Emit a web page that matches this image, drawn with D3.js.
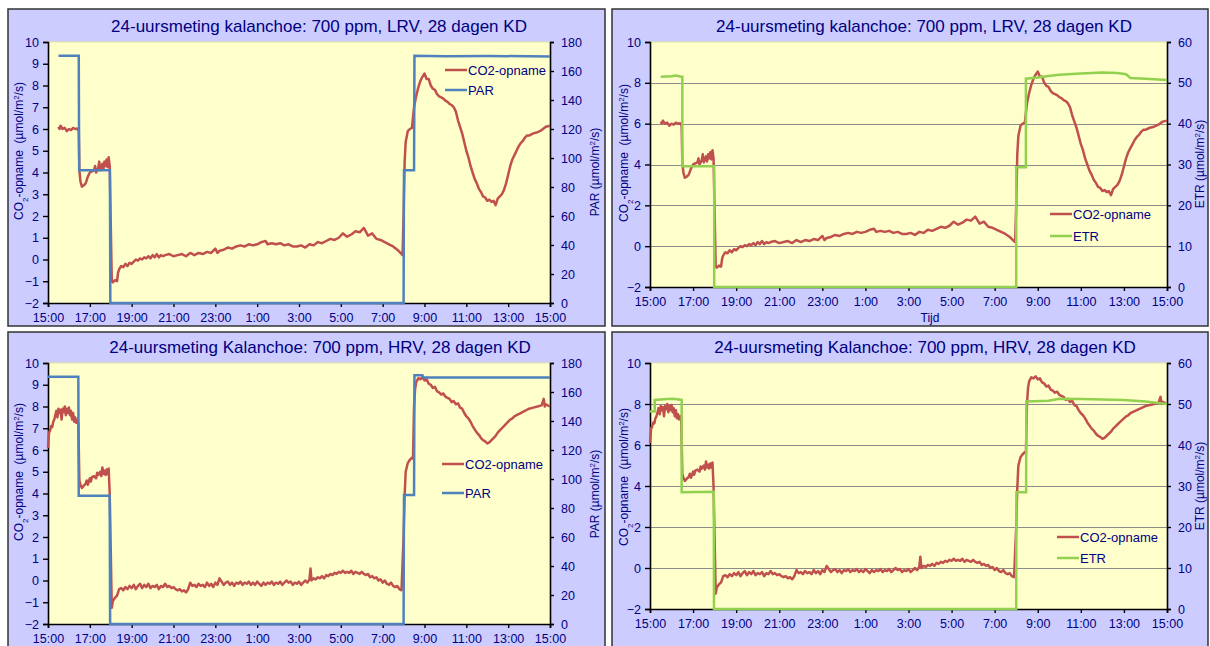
<!DOCTYPE html>
<html>
<head>
<meta charset="utf-8">
<script src="https://cdn.jsdelivr.net/npm/d3@7"></script>
<style>
  html, body { margin: 0; padding: 0; background: #ffffff; }
  svg { display: block; }
  text { font-family: "Liberation Sans", Arial, sans-serif; fill: #000080; }
</style>
</head>
<body>
<svg id="chart" width="1210" height="646"></svg>
<script>
// ---- Data: hours after 15:00, value ----
const xTickHours = [0, 2, 4, 6, 8, 10, 12, 14, 16, 18, 20, 22, 24];
const xTickLabels = ["15:00", "17:00", "19:00", "21:00", "23:00", "1:00", "3:00", "5:00", "7:00", "9:00", "11:00", "13:00", "15:00"];

// CO2 uptake, low relative humidity (LRV)
const co2LRV = [
  [0.5,6.1],[0.55,6.0],[0.6,6.15],[0.7,6.0],[0.8,6.05],[0.9,5.9],[1.0,6.0],[1.1,5.95],[1.2,6.05],[1.3,6.0],[1.4,6.02],[1.47,5.9],
  [1.5,4.1],[1.55,3.6],[1.62,3.35],[1.7,3.4],[1.8,3.5],[1.9,3.8],[2.0,4.0],[2.1,4.05],[2.2,4.1],[2.25,4.3],[2.3,4.0],[2.4,4.2],
  [2.45,4.5],[2.5,4.1],[2.6,4.4],[2.65,4.15],[2.7,4.5],[2.75,4.3],[2.8,4.6],[2.85,4.25],[2.9,4.7],[2.95,4.3],
  [3.05,-1.0],[3.1,-1.05],[3.2,-0.95],[3.3,-1.0],[3.35,-0.6],[3.4,-0.45],[3.5,-0.3],[3.6,-0.35],[3.7,-0.2],[3.8,-0.3],
  [3.9,-0.15],[4.0,-0.2],[4.1,-0.1],[4.2,0.0],[4.3,-0.05],[4.4,0.05],[4.5,0.0],[4.6,0.1],[4.7,0.05],[4.8,0.15],[4.9,0.05],
  [5.0,0.2],[5.1,0.1],[5.2,0.25],[5.3,0.1],[5.4,0.2],[5.5,0.15],[5.6,0.2],[5.8,0.25],[6.0,0.15],[6.2,0.2],[6.4,0.25],
  [6.6,0.15],[6.8,0.3],[7.0,0.2],[7.2,0.3],[7.4,0.25],[7.6,0.35],[7.8,0.3],[8.0,0.5],[8.1,0.3],[8.2,0.4],[8.4,0.45],
  [8.6,0.55],[8.8,0.5],[9.0,0.6],[9.2,0.65],[9.4,0.6],[9.6,0.7],[9.8,0.65],[10.0,0.7],[10.2,0.8],[10.4,0.85],[10.5,0.7],
  [10.7,0.75],[10.9,0.7],[11.1,0.75],[11.3,0.65],[11.5,0.7],[11.7,0.6],[11.9,0.6],[12.1,0.65],[12.3,0.55],[12.5,0.7],
  [12.7,0.65],[12.9,0.8],[13.1,0.75],[13.3,0.85],[13.5,0.95],[13.7,0.9],[13.9,1.0],[14.1,1.2],[14.3,1.05],[14.5,1.15],
  [14.7,1.3],[14.9,1.25],[15.1,1.45],[15.3,1.1],[15.5,1.2],[15.7,0.95],[15.9,0.9],[16.1,0.8],[16.3,0.7],[16.5,0.6],
  [16.7,0.45],[16.85,0.3],[16.95,0.2],
  [17.0,2.0],[17.05,4.5],[17.1,5.4],[17.2,5.9],[17.3,6.0],[17.4,6.05],[17.5,7.0],[17.6,7.5],[17.7,7.9],[17.8,8.2],[17.9,8.4],
  [18.0,8.55],[18.1,8.3],[18.2,8.3],[18.3,8.0],[18.4,7.85],[18.5,7.8],[18.6,7.6],[18.7,7.5],[18.8,7.45],[18.9,7.4],
  [19.0,7.3],[19.1,7.25],[19.2,7.15],[19.3,7.1],[19.4,7.0],[19.5,6.8],[19.6,6.4],[19.7,6.1],[19.8,5.8],[19.9,5.4],
  [20.0,5.0],[20.1,4.7],[20.2,4.3],[20.3,4.0],[20.4,3.7],[20.5,3.5],[20.6,3.25],[20.7,3.1],[20.8,2.9],[20.9,2.85],
  [21.0,2.7],[21.1,2.75],[21.2,2.65],[21.3,2.7],[21.4,2.5],[21.5,2.8],[21.6,2.9],[21.7,3.0],[21.8,3.2],[21.9,3.5],
  [22.0,3.9],[22.1,4.3],[22.2,4.6],[22.3,4.8],[22.4,5.0],[22.5,5.2],[22.6,5.35],[22.7,5.45],[22.8,5.6],[22.9,5.7],
  [23.0,5.7],[23.2,5.8],[23.4,5.85],[23.6,5.95],[23.8,6.1],[24.0,6.15]
];

// CO2 uptake, high relative humidity (HRV)
const co2HRV = [
  [0.0,6.1],[0.05,6.8],[0.1,6.9],[0.15,7.1],[0.2,7.05],[0.25,7.3],[0.3,7.4],[0.35,7.6],[0.4,7.8],[0.45,7.5],[0.5,7.9],
  [0.55,7.7],[0.6,7.85],[0.65,7.4],[0.7,7.9],[0.75,7.75],[0.8,8.0],[0.85,7.6],[0.9,7.9],[0.95,7.7],[1.0,7.95],[1.05,7.6],
  [1.1,7.8],[1.15,7.4],[1.2,7.7],[1.25,7.3],[1.3,7.5],[1.35,7.25],[1.4,7.4],[1.45,7.2],
  [1.5,4.6],[1.55,4.4],[1.62,4.25],[1.7,4.35],[1.8,4.45],[1.85,4.6],[1.9,4.4],[2.0,4.7],[2.05,4.55],[2.1,4.75],[2.2,4.8],
  [2.3,4.7],[2.35,4.95],[2.4,4.85],[2.5,5.0],[2.55,4.8],[2.6,5.2],[2.65,4.9],[2.7,5.05],[2.75,4.85],[2.8,5.1],[2.85,4.9],
  [2.9,5.15],[2.95,4.0],
  [3.05,-1.25],[3.1,-0.95],[3.2,-0.8],[3.3,-0.7],[3.4,-0.4],[3.5,-0.35],[3.6,-0.45],[3.7,-0.3],[3.8,-0.4],[3.9,-0.25],
  [4.0,-0.35],[4.1,-0.2],[4.2,-0.4],[4.3,-0.25],[4.4,-0.15],[4.5,-0.35],[4.6,-0.2],[4.7,-0.3],[4.8,-0.15],[4.9,-0.35],
  [5.0,-0.25],[5.1,-0.3],[5.2,-0.2],[5.3,-0.4],[5.4,-0.25],[5.5,-0.3],[5.6,-0.15],[5.7,-0.3],[5.8,-0.25],[5.9,-0.35],
  [6.0,-0.3],[6.1,-0.4],[6.2,-0.45],[6.3,-0.4],[6.4,-0.5],[6.5,-0.45],[6.6,-0.55],[6.7,-0.4],[6.8,-0.1],[6.9,-0.25],
  [7.0,-0.2],[7.1,-0.3],[7.2,-0.15],[7.3,-0.25],[7.4,-0.2],[7.5,-0.3],[7.6,-0.1],[7.7,-0.25],[7.8,-0.15],[7.9,-0.3],
  [8.0,-0.1],[8.1,-0.2],[8.2,0.1],[8.3,-0.05],[8.4,-0.2],[8.5,-0.1],[8.6,-0.05],[8.7,-0.2],[8.8,-0.1],[8.9,-0.25],
  [9.0,-0.1],[9.1,-0.15],[9.2,-0.05],[9.3,-0.2],[9.4,-0.1],[9.5,-0.15],[9.6,-0.05],[9.7,-0.2],[9.8,-0.1],[9.9,-0.2],
  [10.0,-0.05],[10.1,-0.15],[10.2,-0.25],[10.3,-0.1],[10.4,-0.2],[10.5,-0.1],[10.6,-0.15],[10.7,-0.05],[10.8,-0.2],
  [10.9,-0.1],[11.0,-0.15],[11.1,-0.05],[11.2,-0.2],[11.3,-0.1],[11.4,0.0],[11.5,-0.1],[11.6,-0.05],[11.7,-0.2],
  [11.8,-0.1],[11.9,-0.15],[12.0,-0.05],[12.1,-0.2],[12.2,-0.1],[12.3,0.0],[12.4,-0.1],[12.5,0.05],[12.55,0.55],
  [12.6,0.0],[12.7,0.1],[12.8,0.05],[12.9,0.15],[13.0,0.1],[13.1,0.2],[13.2,0.1],[13.3,0.25],[13.4,0.2],[13.5,0.3],
  [13.6,0.25],[13.7,0.35],[13.8,0.3],[13.9,0.4],[14.0,0.35],[14.1,0.45],[14.2,0.35],[14.3,0.4],[14.4,0.35],[14.5,0.45],
  [14.6,0.3],[14.7,0.4],[14.8,0.35],[14.9,0.3],[15.0,0.4],[15.1,0.3],[15.2,0.25],[15.3,0.3],[15.4,0.15],[15.5,0.2],
  [15.6,0.1],[15.7,0.15],[15.8,0.0],[15.9,0.05],[16.0,-0.1],[16.1,0.0],[16.2,-0.15],[16.3,-0.2],[16.4,-0.1],[16.5,-0.25],
  [16.6,-0.3],[16.7,-0.25],[16.8,-0.4],[16.9,-0.45],
  [17.0,2.0],[17.05,3.9],[17.1,5.0],[17.2,5.4],[17.3,5.55],[17.4,5.65],[17.45,5.6],[17.5,8.0],[17.55,8.8],[17.6,9.1],
  [17.7,9.3],[17.8,9.25],[17.9,9.35],[18.0,9.2],[18.1,9.25],[18.2,9.05],[18.3,9.0],[18.4,8.85],[18.5,8.9],[18.6,8.7],
  [18.7,8.65],[18.8,8.55],[18.9,8.6],[19.0,8.45],[19.1,8.4],[19.2,8.35],[19.3,8.2],[19.4,8.25],[19.5,8.1],[19.6,8.15],
  [19.7,7.95],[19.8,7.9],[19.9,7.7],[20.0,7.55],[20.1,7.45],[20.2,7.3],[20.3,7.1],[20.4,6.95],[20.5,6.8],[20.6,6.7],
  [20.7,6.55],[20.8,6.45],[20.9,6.4],[21.0,6.3],[21.1,6.35],[21.2,6.45],[21.3,6.55],[21.4,6.65],[21.5,6.8],[21.6,6.9],
  [21.7,7.0],[21.8,7.1],[21.9,7.2],[22.0,7.3],[22.1,7.4],[22.2,7.45],[22.3,7.55],[22.4,7.6],[22.5,7.65],[22.6,7.7],
  [22.7,7.75],[22.8,7.8],[22.9,7.85],[23.0,7.9],[23.2,7.95],[23.4,8.0],[23.6,8.05],[23.7,8.35],[23.75,8.0],[23.8,8.1],
  [24.0,8.0]
];

// PAR (µmol/m²/s)
const parLRV = [
  [0.5,170.5],[1.47,170.5],[1.49,91.5],[2.96,91.5],[2.98,0],[17.0,0],[17.02,91.5],[17.5,91.5],[17.52,170.5],
  [19.0,170.2],[21.0,170.4],[24.0,170.0]
];
const parHRV = [
  [0.0,170.5],[1.45,170.5],[1.47,88.5],[2.95,88.5],[2.97,0],[17.0,0],[17.02,89],[17.5,89],[17.52,171.5],
  [17.9,171.5],[17.95,170.0],[24.0,170.0]
];

// ETR (µmol/m²/s)
const etrLRV = [
  [0.5,51.5],[1.0,51.6],[1.2,51.8],[1.45,51.5],[1.5,51.5],[1.5,29.6],[2.98,29.6],[2.98,0],[17.0,0],[17.0,29.3],
  [17.45,29.3],[17.45,51.0],[18.0,51.3],[18.5,51.7],[19.0,52.0],[20.0,52.3],[21.0,52.5],[21.7,52.4],[22.1,52.1],
  [22.3,51.2],[23.0,51.0],[24.0,50.7]
];
const etrHRV = [
  [0.0,48.2],[0.22,48.2],[0.22,51.0],[0.8,51.2],[1.1,51.3],[1.47,51.0],[1.47,28.5],[2.96,28.6],[2.97,0],[17.0,0],
  [17.01,28.5],[17.46,28.5],[17.47,50.6],[18.5,50.8],[19.0,51.3],[20.0,51.2],[21.0,51.1],[22.0,51.0],[23.0,50.6],
  [24.0,50.0]
];

const seriesNames = ["CO2-opname", "PAR", "ETR"];
const colors = { co2: "#C0504D", par: "#4F81BD", etr: "#92D050" };

// ---- Panel layout ----
const panels = [
  { box: [8, 9, 605, 326], plot: { l: 48, t: 42, r: 550, b: 303 },
    title: "24-uursmeting kalanchoe: 700 ppm, LRV, 28 dagen KD", titleX: 319, titleY: 32,
    co2: co2LRV, sec: parLRV, secName: "PAR", secColor: colors.par, secMax: 180, secStep: 20,
    leftStep: 1, grid: false, legend: { x: 445, y: 70, gap: 20 },
    leftLabel: { x: 22.5, y: 151 }, rightLabel: { x: 599, y: 172 }, xLabel: null },
  { box: [612, 9, 1208, 326], plot: { l: 650, t: 42, r: 1167, b: 287 },
    title: "24-uursmeting kalanchoe: 700 ppm, LRV, 28 dagen KD", titleX: 924, titleY: 32,
    co2: co2LRV, sec: etrLRV, secName: "ETR", secColor: colors.etr, secMax: 60, secStep: 10,
    leftStep: 2, grid: true, legend: { x: 1050, y: 214, gap: 22 },
    leftLabel: { x: 627.5, y: 153 }, rightLabel: { x: 1204, y: 164 }, xLabel: { x: 930, y: 322, text: "Tijd" } },
  { box: [8, 332, 605, 660], plot: { l: 48, t: 363, r: 550, b: 624 },
    title: "24-uursmeting Kalanchoe: 700 ppm, HRV, 28 dagen KD", titleX: 320, titleY: 353,
    co2: co2HRV, sec: parHRV, secName: "PAR", secColor: colors.par, secMax: 180, secStep: 20,
    leftStep: 1, grid: false, legend: { x: 442, y: 464, gap: 29 },
    leftLabel: { x: 22.5, y: 472 }, rightLabel: { x: 599, y: 494 }, xLabel: null },
  { box: [612, 332, 1208, 660], plot: { l: 650, t: 363, r: 1167, b: 609 },
    title: "24-uursmeting Kalanchoe: 700 ppm, HRV, 28 dagen KD", titleX: 925, titleY: 353,
    co2: co2HRV, sec: etrHRV, secName: "ETR", secColor: colors.etr, secMax: 60, secStep: 10,
    leftStep: 2, grid: true, legend: { x: 1057, y: 537, gap: 21 },
    leftLabel: { x: 627.5, y: 477 }, rightLabel: { x: 1204, y: 486 }, xLabel: null }
];

const svg = d3.select("#chart");

function unitLabel(sel, prefix) {
  // builds "<prefix> (µmol/m²/s)" with a raised 2
  sel.append("tspan").text(prefix + " (µmol/m");
  sel.append("tspan").attr("baseline-shift", "super").attr("font-size", "8px").text("2");
  sel.append("tspan").text("/s)");
}

panels.forEach(p => {
  const g = svg.append("g");
  const [bx0, by0, bx1, by1] = p.box;
  g.append("rect").attr("x", bx0).attr("y", by0).attr("width", bx1 - bx0).attr("height", by1 - by0)
    .attr("fill", "#CCCCFF").attr("stroke", "#333333").attr("stroke-width", 1.5);

  const x = d3.scaleLinear().domain([0, 24]).range([p.plot.l, p.plot.r]);
  const yL = d3.scaleLinear().domain([-2, 10]).range([p.plot.b, p.plot.t]);
  const yR = d3.scaleLinear().domain([0, p.secMax]).range([p.plot.b, p.plot.t]);

  g.append("rect").attr("x", p.plot.l).attr("y", p.plot.t)
    .attr("width", p.plot.r - p.plot.l).attr("height", p.plot.b - p.plot.t).attr("fill", "#FFFFCC");
  g.append("line").attr("x1", p.plot.l).attr("x2", p.plot.r).attr("y1", p.plot.t).attr("y2", p.plot.t)
    .attr("stroke", "#E4E4A8").attr("stroke-width", 1);

  const leftTicks = d3.range(-2, 10.001, p.leftStep);
  if (p.grid) {
    g.append("g").selectAll("line").data(leftTicks.filter(v => v > -2 && v < 10)).join("line")
      .attr("x1", p.plot.l).attr("x2", p.plot.r)
      .attr("y1", d => Math.round(yL(d)) + 0.5).attr("y2", d => Math.round(yL(d)) + 0.5)
      .attr("stroke", "#8C8C8C").attr("stroke-width", 1);
  }

  // axes
  const axL = d3.axisLeft(yL).tickValues(leftTicks).tickSize(5).tickPadding(4).tickFormat(d3.format("d"));
  const axR = d3.axisRight(yR).tickValues(d3.range(0, p.secMax + 0.001, p.secStep)).tickSize(4).tickPadding(7).tickFormat(d3.format("d"));
  const axB = d3.axisBottom(x).tickValues(xTickHours).tickSize(4).tickPadding(6).tickFormat((d, i) => xTickLabels[i]);

  [[axL, `translate(${p.plot.l},0)`], [axR, `translate(${p.plot.r},0)`], [axB, `translate(0,${p.plot.b})`]].forEach(([ax, tr]) => {
    const a = g.append("g").attr("transform", tr).call(ax);
    a.select(".domain").attr("stroke", "#000").attr("stroke-width", 1.6);
    a.selectAll(".tick line").attr("stroke", "#000").attr("stroke-width", 1.4);
    a.selectAll(".tick text").attr("fill", "#000080").style("font-size", "12.5px")
      .style("font-family", '"Liberation Sans", Arial, sans-serif');
  });

  // series
  const line = (ys) => d3.line().x(d => x(d[0])).y(d => ys(d[1]));
  g.append("path").datum(p.co2).attr("d", line(yL)).attr("fill", "none")
    .attr("stroke", colors.co2).attr("stroke-width", 2.5).attr("stroke-linejoin", "round");
  g.append("path").datum(p.sec).attr("d", line(yR)).attr("fill", "none")
    .attr("stroke", p.secColor).attr("stroke-width", 2.5).attr("stroke-linejoin", "miter");

  // title
  g.append("text").attr("x", p.titleX).attr("y", p.titleY).attr("text-anchor", "middle")
    .style("font-size", "17px").text(p.title);

  // left axis label
  const ll = g.append("text").attr("transform", `translate(${p.leftLabel.x},${p.leftLabel.y}) rotate(-90)`)
    .attr("text-anchor", "middle").style("font-size", "12px").style("white-space", "pre");
  ll.append("tspan").text("CO");
  ll.append("tspan").attr("baseline-shift", "sub").attr("font-size", "8px").text("2");
  ll.append("tspan").text("-opname ");
  unitLabel(ll, "");

  // right axis label
  const rl = g.append("text").attr("transform", `translate(${p.rightLabel.x},${p.rightLabel.y}) rotate(-90)`)
    .attr("text-anchor", "middle").style("font-size", "12px");
  unitLabel(rl, p.secName);

  if (p.xLabel) {
    g.append("text").attr("x", p.xLabel.x).attr("y", p.xLabel.y).attr("text-anchor", "middle")
      .style("font-size", "12px").text(p.xLabel.text);
  }

  // legend
  const legendItems = [{ name: seriesNames[0], color: colors.co2 }, { name: p.secName, color: p.secColor }];
  const lg = g.append("g").attr("transform", `translate(${p.legend.x},${p.legend.y})`);
  const li = lg.selectAll("g").data(legendItems).join("g").attr("transform", (d, i) => `translate(0,${i * p.legend.gap})`);
  li.append("line").attr("x1", 0).attr("x2", 22).attr("stroke", d => d.color).attr("stroke-width", 2.5);
  li.append("text").attr("x", 23).attr("y", 4.5).style("font-size", "13px").text(d => d.name);
});
</script>
</body>
</html>
